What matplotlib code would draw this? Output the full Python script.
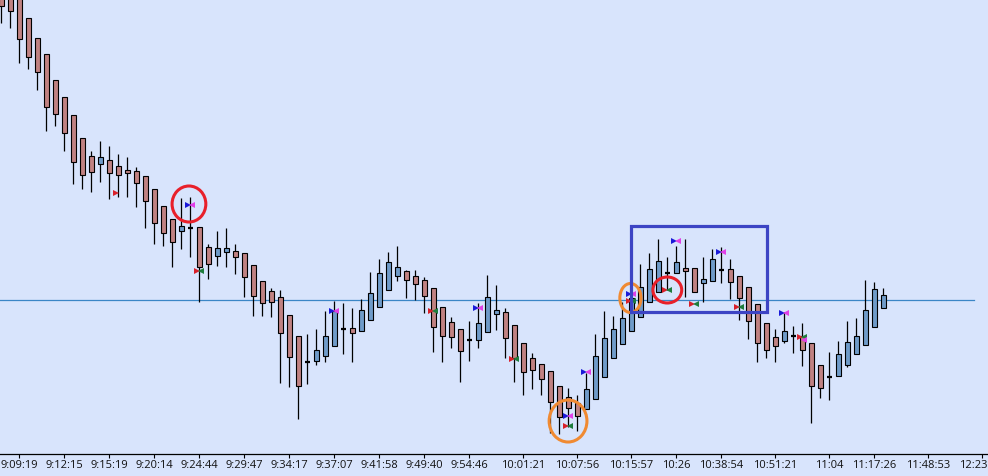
import numpy as np
import matplotlib
matplotlib.use("Agg")
import matplotlib.pyplot as plt
from matplotlib.patches import Ellipse, Rectangle
from matplotlib.transforms import ScaledTranslation

# candle data (arbitrary price units), one entry per bar
opens = [469, 459, 456, 436, 416, 400, 374, 357, 339, 316,
         298, 290, 294, 288, 284, 283, 278, 265, 248, 235,
         223, 226, 227, 207, 198, 202, 203, 201, 189, 173,
         163, 157, 139, 118, 92, 93, 98, 108, 125, 126,
         123, 134, 147, 164, 178, 183, 178, 174, 166, 147,
         132, 125, 114, 114, 122, 140, 142, 129, 111, 96,
         90, 83, 68, 57, 51, 45, 55, 77, 96, 110,
         123, 137, 152, 162, 181, 181, 186, 186, 171, 173,
         184, 185, 178, 167, 150, 131, 117, 113, 118, 118,
         111, 89, 77, 78, 89, 100, 109, 127, 146]
highs = [469, 459, 456, 436, 416, 400, 374, 357, 339, 316,
         303, 313, 308, 300, 297, 287, 278, 265, 248, 235,
         256, 257, 227, 210, 223, 226, 210, 201, 189, 173,
         166, 164, 139, 118, 120, 125, 143, 153, 151, 146,
         155, 182, 195, 202, 208, 184, 184, 177, 166, 147,
         137, 125, 133, 151, 179, 169, 146, 129, 111, 101,
         90, 83, 68, 66, 59, 81, 120, 143, 138, 152,
         181, 190, 201, 215, 197, 208, 215, 186, 197, 205,
         207, 195, 178, 167, 150, 131, 125, 142, 128, 131,
         111, 89, 102, 113, 133, 136, 174, 172, 166]
lows = [431, 426, 391, 385, 364, 323, 328, 303, 270, 265,
        262, 272, 255, 257, 257, 247, 226, 210, 208, 187,
        205, 197, 152, 175, 188, 187, 180, 157, 138, 138,
        137, 71, 67, 35, 70, 89, 92, 108, 100, 92,
        123, 134, 147, 164, 173, 156, 154, 141, 102, 92,
        106, 72, 93, 106, 122, 124, 96, 72, 59, 65,
        59, 21, 20, 27, 23, 45, 55, 77, 96, 110,
        123, 137, 152, 162, 164, 181, 157, 162, 152, 173,
        171, 155, 134, 115, 92, 96, 92, 111, 101, 88,
        31, 56, 54, 78, 87, 100, 109, 127, 146]
closes = [448, 443, 415, 397, 382, 347, 340, 321, 292, 279,
          282, 297, 281, 279, 281, 271, 253, 231, 221, 212,
          228, 226, 187, 190, 206, 206, 197, 177, 158, 151,
          152, 121, 97, 68, 92, 104, 118, 143, 125, 121,
          144, 161, 181, 192, 187, 174, 170, 158, 127, 118,
          117, 103, 114, 131, 157, 144, 116, 96, 82, 84,
          75, 52, 37, 46, 38, 65, 98, 116, 125, 136,
          156, 167, 185, 193, 181, 192, 183, 162, 175, 195,
          184, 172, 156, 133, 111, 104, 108, 123, 118, 104,
          68, 66, 77, 100, 112, 118, 144, 165, 159]

tick_idx = [2, 7, 12, 17, 22, 27, 32, 37, 42, 47, 52, 58, 64, 70, 75, 80, 86, 92, 97, 103, 109]
tick_labels = ['9:09:19', '9:12:15', '9:15:19', '9:20:14', '9:24:44', '9:29:47', '9:34:17',
               '9:37:07', '9:41:58', '9:49:40', '9:54:46', '10:01:21', '10:07:56', '10:15:57',
               '10:26', '10:38:54', '10:51:21', '11:04', '11:17:26', '11:48:53', '12:23']

level = 154  # horizontal reference line

# signal markers: (bar, price)
bm_bar = [21, 37, 53, 63, 65, 70, 75, 80, 87]
bm_price = [249, 143, 146, 38, 82, 160, 213, 202, 141]
rg_bar = [22, 48, 57, 63, 70, 74, 77, 82, 89]
rg_price = [183, 143, 95, 28, 153, 164, 150, 147, 117]
red_only_bar = [13]
red_only_price = [261]
mag_only_bar = [89]
mag_only_price = [114]

bg = '#d8e4fc'
up_col = '#6f9bc9'
dn_col = '#c08282'

fig = plt.figure(figsize=(9.88, 4.76), dpi=100, facecolor=bg)
ax = fig.add_axes([0, 22 / 476, 1, 454 / 476])
ax.set_facecolor(bg)

x = np.arange(len(opens))
o = np.array(opens, float)
c = np.array(closes, float)
h = np.array(highs, float)
l = np.array(lows, float)

ax.vlines(x, l, h, color='black', linewidth=0.9, zorder=2)

body_lo = np.minimum(o, c)
body_h = np.abs(c - o)
cols = [up_col if cc > oo else dn_col for oo, cc in zip(o, c)]
doji = body_h == 0
ax.bar(x[~doji], body_h[~doji], bottom=body_lo[~doji], width=0.58,
       color=np.array(cols)[~doji], edgecolor='black', linewidth=0.8, zorder=3)
ax.hlines(o[doji], x[doji] - 0.3, x[doji] + 0.3, color='black', linewidth=1.6, zorder=3)

ax.axhline(level, xmin=0, xmax=974 / 988, color='#3b86c6', linewidth=0.9, zorder=1)

ms = 4.8
off = 0.22
ax.plot(np.array(bm_bar) - off, bm_price, '>', color='#1a1ad8', ms=ms, mew=0, zorder=5)
ax.plot(np.array(bm_bar) + off, bm_price, '<', color='#e040e6', ms=ms, mew=0, zorder=5)
ax.plot(np.array(rg_bar) - off, rg_price, '>', color='#d8202a', ms=ms, mew=0, zorder=5)
ax.plot(np.array(rg_bar) + off, rg_price, '<', color='#1e7d3c', ms=ms, mew=0, zorder=5)
ax.plot(np.array(red_only_bar) - off, red_only_price, '>', color='#d8202a', ms=ms, mew=0, zorder=5)
ax.plot(np.array(mag_only_bar) + off, mag_only_price, '<', color='#e040e6', ms=ms, mew=0, zorder=5)

# highlight shapes
ax.add_patch(Ellipse((20.85, 250), 3.75, 36, fill=False, edgecolor='#e8202a', linewidth=2.2, zorder=6))
ax.add_patch(Ellipse((62.97, 33), 4.2, 42, fill=False, edgecolor='#f08a32', linewidth=2.2, zorder=6))
ax.add_patch(Ellipse((69.9, 156), 2.35, 29, fill=False, edgecolor='#f08a32', linewidth=2.2, zorder=6))
ax.add_patch(Ellipse((74.0, 164), 3.2, 26, fill=False, edgecolor='#e8202a', linewidth=2.2, zorder=6))
ax.add_patch(Rectangle((69.97, 142), 15.1, 86, fill=False, edgecolor='#3c44c4', linewidth=2.3, zorder=6))

ax.set_xlim(-0.144, 109.63)
ax.set_ylim(0, 454)
for s in ['top', 'left', 'right']:
    ax.spines[s].set_visible(False)
ax.spines['bottom'].set_color('black')
ax.spines['bottom'].set_linewidth(0.9)
ax.set_yticks([])
ax.set_xticks(tick_idx)
ax.set_xticklabels(tick_labels, fontsize=8, family=['Open Sans', 'DejaVu Sans'], color='#111111')
ax.tick_params(axis='x', direction='out', length=3, width=0.8, pad=1.5, color='black')

# last label sits flush with the right edge, as in the original
last = ax.get_xticklabels()[-1]
last.set_horizontalalignment('right')
last.set_transform(last.get_transform() + ScaledTranslation(5 / 100, 0, fig.dpi_scale_trans))

fig.savefig('out.png', dpi=100, facecolor=bg)
